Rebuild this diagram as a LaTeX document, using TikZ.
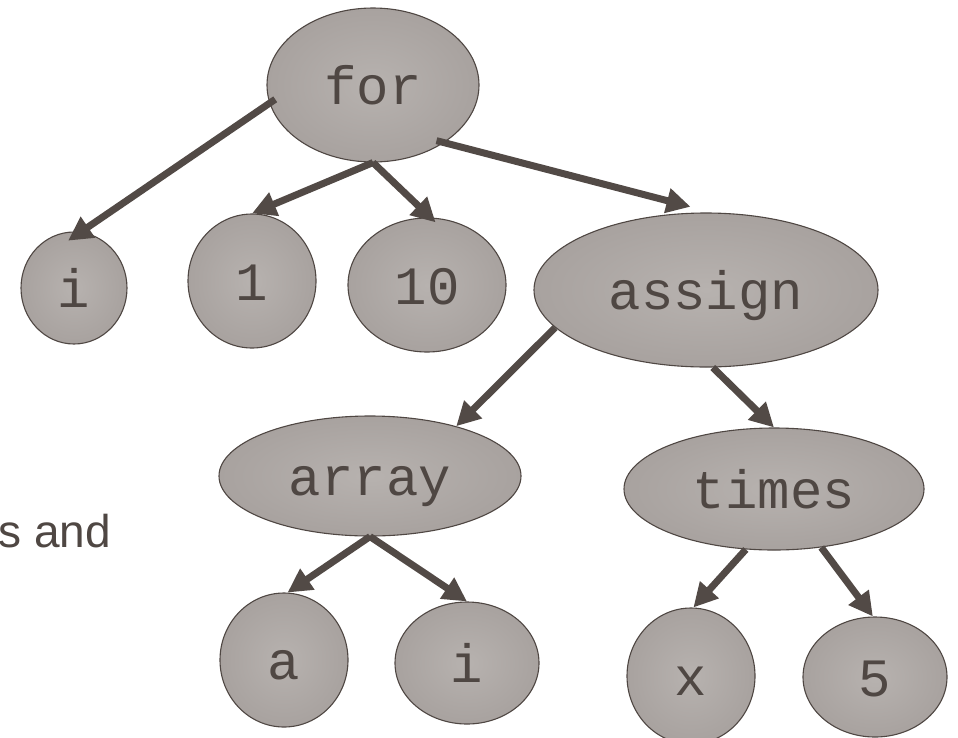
\documentclass[tikz,border=0pt]{standalone}
\usepackage{fontspec}
\setmonofont{Liberation Mono}
\newfontfamily\notefont{Liberation Sans}
\usetikzlibrary{shapes.geometric,arrows.meta,calc}
\definecolor{ink}{HTML}{4F4743}
\definecolor{bubblein}{HTML}{B7B2AF}
\definecolor{bubbleout}{HTML}{A8A29F}
\definecolor{linkcol}{HTML}{524A46}
\begin{document}
\begin{tikzpicture}[x=1pt,y=-1pt,
  tnode/.style 2 args={ellipse, draw=ink, line width=1.1pt,
    inner color=bubblein, outer color=bubbleout, text=ink, inner sep=0pt,
    minimum width=#1pt, minimum height=#2pt, text height=38pt, text depth=0pt,
    font=\fontsize{54pt}{60pt}\selectfont\ttfamily},
  link/.style={draw=linkcol, line width=7pt, -{Triangle[length=24pt,width=24pt]}}]
\useasboundingbox (0,0) rectangle (958,737);

% syntax tree of: for i = 1 to 10 do a[i] := x * 5
\node[tnode={212}{154}] (for)    at (373,85)  {for};
\node[tnode={106}{112}] (i1)     at (74,288)  {i};
\node[tnode={128}{134}] (one)    at (252,281) {1};
\node[tnode={158}{134}] (ten)    at (427,285) {10};
\node[tnode={344}{154}] (assign) at (706,290) {assign};
\node[tnode={302}{120}] (array)  at (370,476) {array};
\node[tnode={300}{122}] (times)  at (774,489) {times};
\node[tnode={128}{134}] (a)      at (284,660) {a};
\node[tnode={144}{122}] (i2)     at (467,663) {i};
\node[tnode={128}{136}] (x)      at (691,676) {x};
\node[tnode={144}{120}] (five)   at (875,677) {5};

% edges, parent to child
\draw[link, shorten <=-7pt, shorten >=-15.5pt] (for.190) -- (i1.83);
\draw[link] (for.south) -- (one.north);
\draw[link, shorten >=-7pt] (for.south) -- (ten.87);
\draw[link, shorten <=-8pt, shorten >=23pt] (for.-39) -- (assign.85);
\draw[link] (assign.194) -- (array.30);
\draw[link] (assign.-85) -- (times.north);
\draw[link] (array.south) -- (a.87);
\draw[link] (array.south) -- (i2.north);
\draw[link] (times.245) -- (x.88);
\draw[link] (times.-51) -- (five.92);

% caption fragment at the left edge
\node[anchor=base east, inner sep=0pt, text=ink,
      font=\notefont\fontsize{46pt}{54pt}\selectfont] (note) at (111,547) {s and};
\end{tikzpicture}
\end{document}
